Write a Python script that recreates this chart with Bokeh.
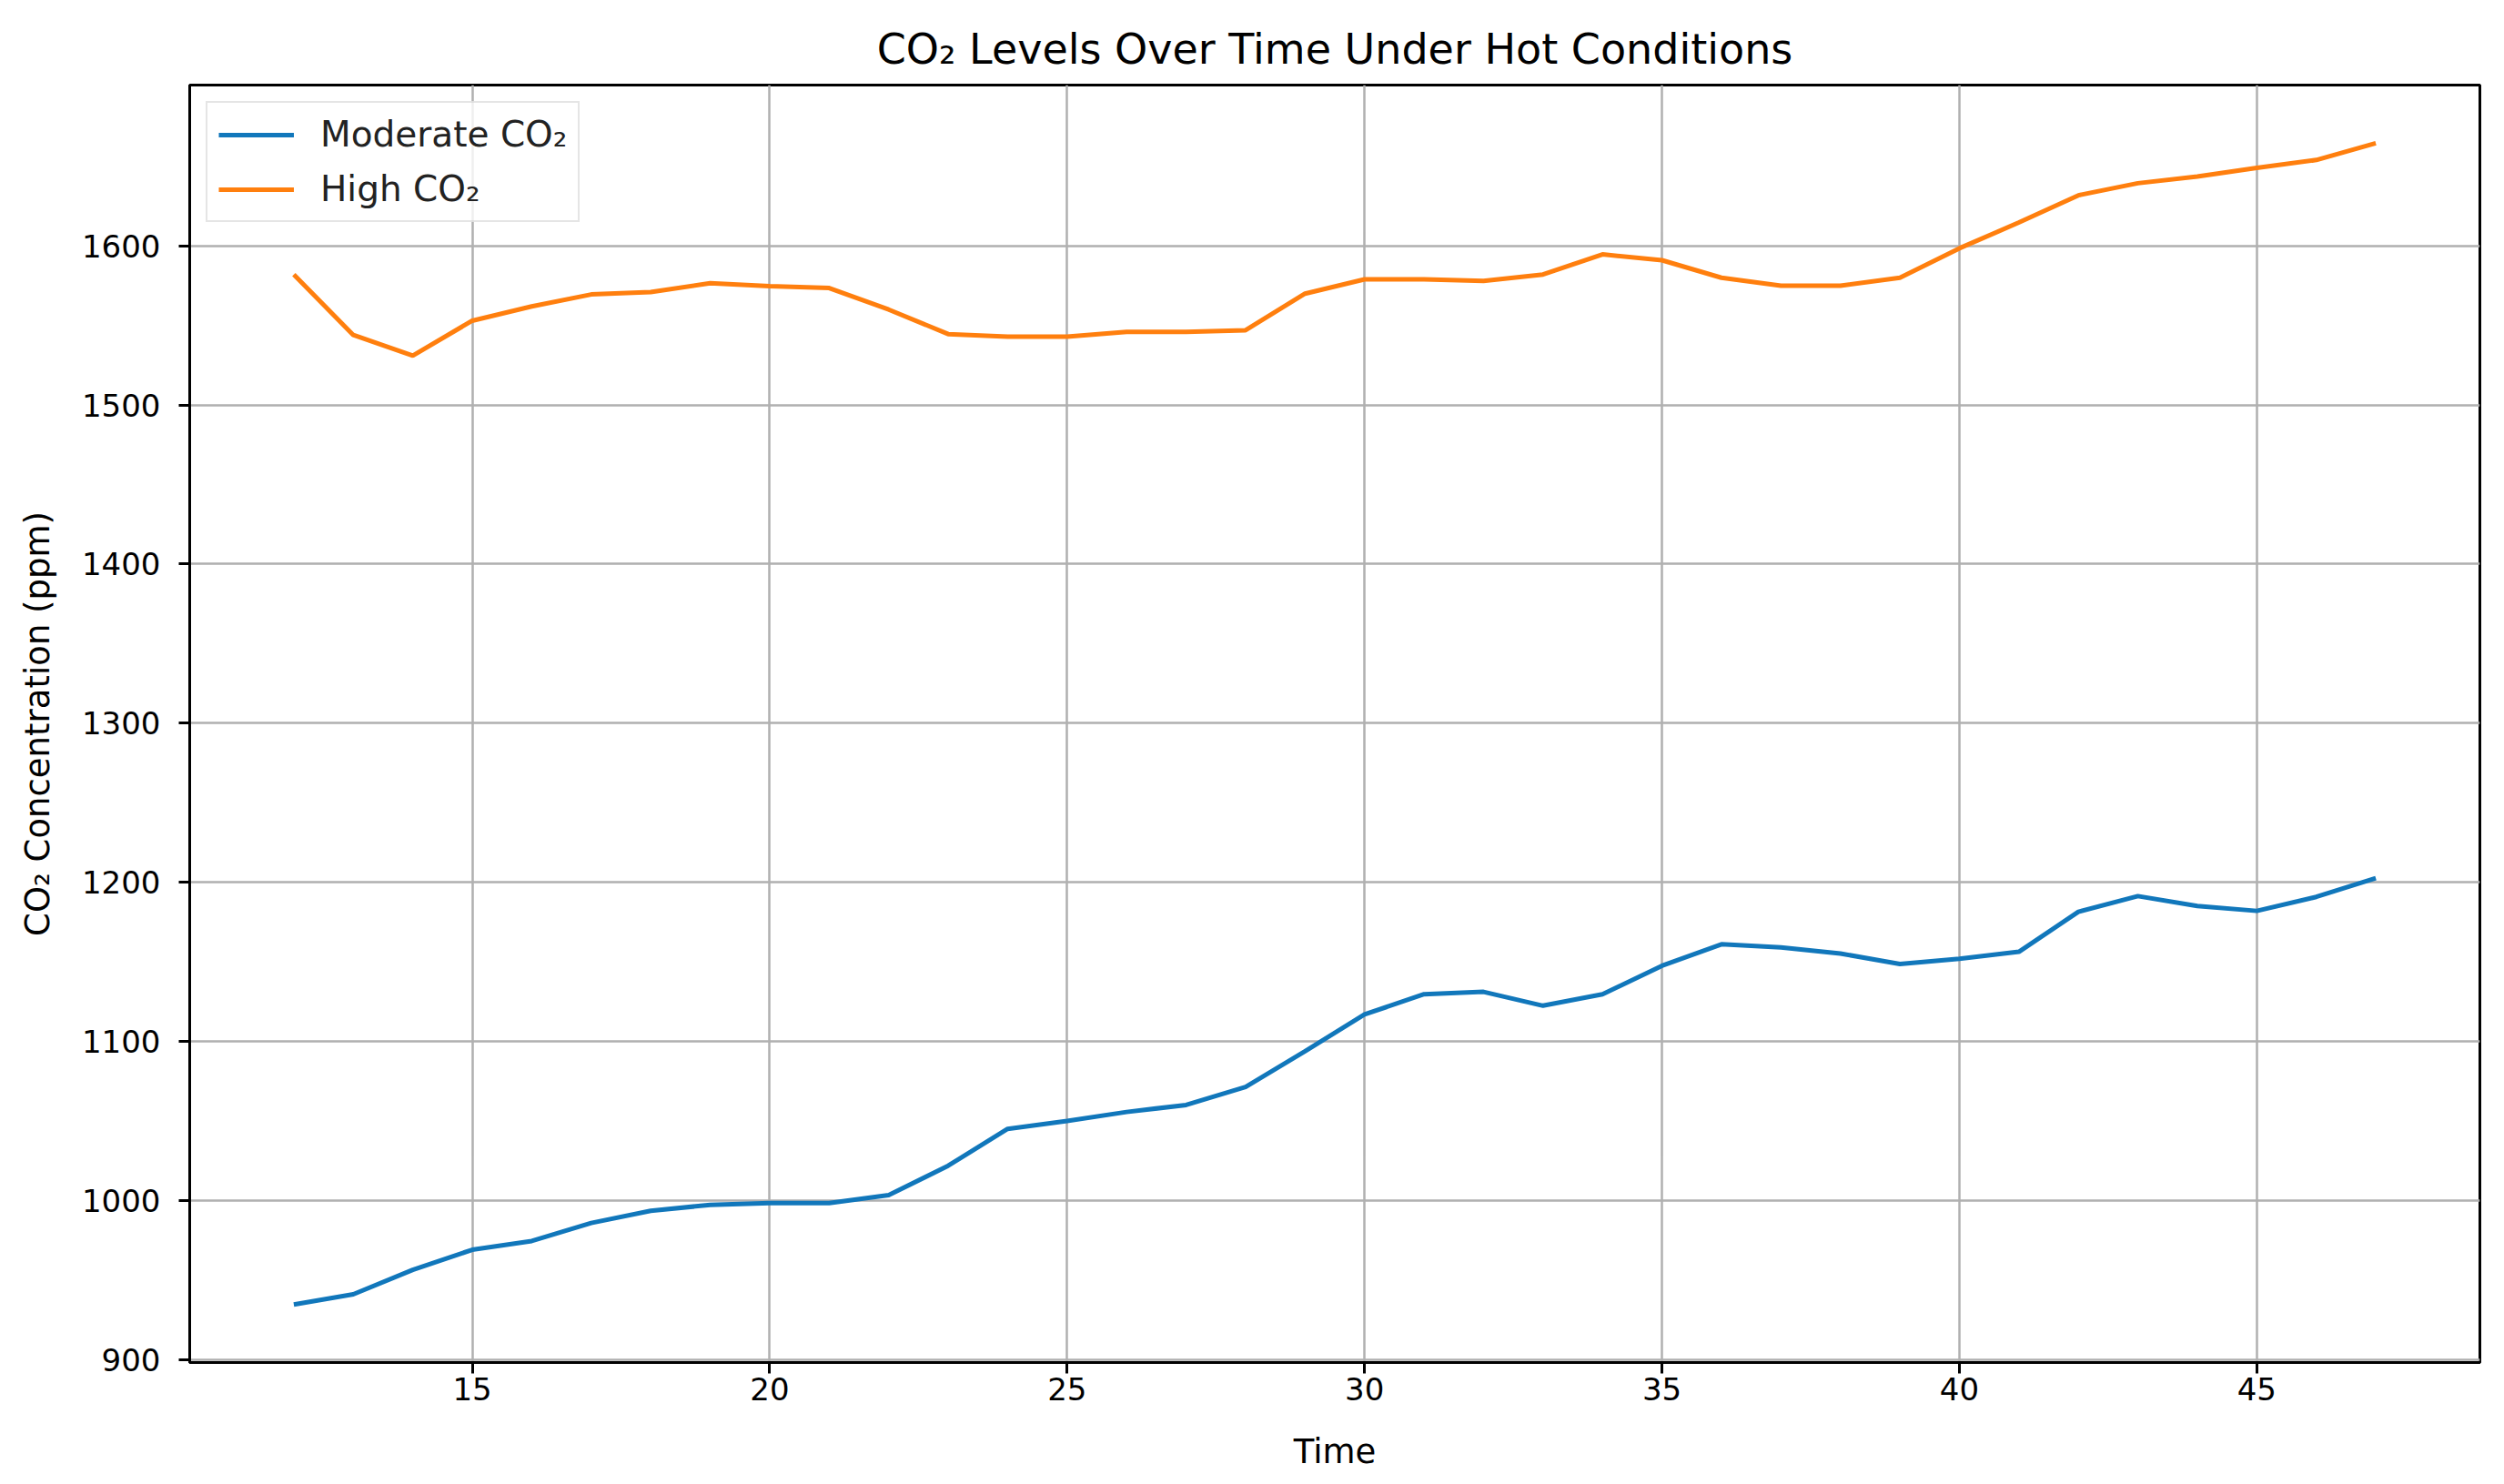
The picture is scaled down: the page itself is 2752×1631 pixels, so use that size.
from bokeh.plotting import figure
from bokeh.models import ColumnDataSource, FixedTicker, Range1d, Legend, LegendItem
from bokeh.embed import file_html
from bokeh.resources import INLINE

time = list(range(12, 48))
moderate_co2 = [934.6, 941.0, 956.4, 969.0, 974.5, 985.8, 993.5, 997.2, 998.3, 998.3,
                1003.3, 1021.8, 1045.0, 1050.0, 1055.6, 1060.0, 1071.3, 1093.8,
                1116.9, 1129.6, 1131.1, 1122.4, 1129.6, 1147.5, 1161.0, 1159.0,
                1155.2, 1148.6, 1151.9, 1156.3, 1181.4, 1191.3, 1185.1, 1182.0,
                1190.8, 1202.6]
high_co2 = [1582.0, 1544.0, 1531.0, 1553.0, 1562.0, 1569.5, 1571.0, 1576.6, 1574.7,
            1573.5, 1560.0, 1544.6, 1543.0, 1543.0, 1546.0, 1546.0, 1547.0, 1570.0,
            1579.0, 1579.0, 1578.0, 1582.0, 1594.7, 1591.0, 1580.0, 1575.0, 1575.0,
            1580.0, 1598.5, 1614.7, 1631.8, 1639.4, 1643.6, 1649.0, 1654.0, 1664.6]
x_ticks = [15, 20, 25, 30, 35, 40, 45]
y_ticks = [900, 1000, 1100, 1200, 1300, 1400, 1500, 1600]
series_names = ["Moderate CO\u2082", "High CO\u2082"]
series_colors = ["#1177bb", "#ff7f0e"]

FONT = "DejaVu Sans"

src = ColumnDataSource(dict(t=time, moderate=moderate_co2, high=high_co2))

xmin, xmax = min(time), max(time)
allv = moderate_co2 + high_co2
ymin, ymax = min(allv), max(allv)
xpad = (xmax - xmin) * 0.05
ypad = (ymax - ymin) * 0.05

p = figure(width=2736, height=1623, output_backend="svg", toolbar_location=None,
           x_range=Range1d(xmin - xpad, xmax + xpad),
           y_range=Range1d(ymin - ypad, ymax + ypad),
           min_border_left=208, min_border_right=11, min_border_top=93,
           min_border_bottom=126)

p.title.text = "CO\u2082 Levels Over Time Under Hot Conditions"
p.title.align = "center"
p.title.text_font = FONT
p.title.text_font_size = "46px"
p.title.text_font_style = "normal"
p.title.text_color = "black"
p.title.standoff = 26

r1 = p.line("t", "moderate", source=src, line_color=series_colors[0], line_width=5)
r2 = p.line("t", "high", source=src, line_color=series_colors[1], line_width=5)

p.xaxis.ticker = FixedTicker(ticks=x_ticks)
p.yaxis.ticker = FixedTicker(ticks=y_ticks)
p.xaxis.axis_label = "Time"
p.yaxis.axis_label = "CO\u2082 Concentration (ppm)"
for ax in (p.xaxis, p.yaxis):
    ax.axis_label_text_font = FONT
    ax.axis_label_text_font_size = "37px"
    ax.axis_label_text_font_style = "normal"
    ax.axis_label_text_color = "black"
    ax.major_label_text_font = FONT
    ax.major_label_text_font_size = "34px"
    ax.major_label_text_color = "black"
    ax.major_tick_out = 12
    ax.major_tick_in = 0
    ax.minor_tick_out = 0
    ax.minor_tick_in = 0
    ax.major_tick_line_width = 3
    ax.major_tick_line_color = "black"
    ax.axis_line_width = 3
    ax.axis_line_color = "black"
p.yaxis.major_label_standoff = 20
p.xaxis.major_label_standoff = 4
p.yaxis.axis_label_standoff = 24
p.xaxis.axis_label_standoff = 32

p.xgrid.ticker = FixedTicker(ticks=x_ticks)
p.ygrid.ticker = FixedTicker(ticks=y_ticks)
p.grid.grid_line_color = "#b0b0b0"
p.grid.grid_line_width = 2.5

p.outline_line_color = "black"
p.outline_line_width = 3
p.background_fill_color = "white"
p.border_fill_color = "white"

legend = Legend(items=[LegendItem(label=series_names[0], renderers=[r1]),
                       LegendItem(label=series_names[1], renderers=[r2])],
                location="top_left")
legend.margin = 18
legend.padding = 12
legend.spacing = 15
legend.glyph_width = 83
legend.glyph_height = 40
legend.label_standoff = 29
legend.label_text_font = FONT
legend.label_text_font_size = "39px"
legend.label_text_color = "#222222"
legend.border_line_color = "#cccccc"
legend.border_line_width = 2
legend.background_fill_color = "white"
legend.background_fill_alpha = 0.8
p.add_layout(legend)

open("out.html", "w").write(file_html(p, INLINE))
